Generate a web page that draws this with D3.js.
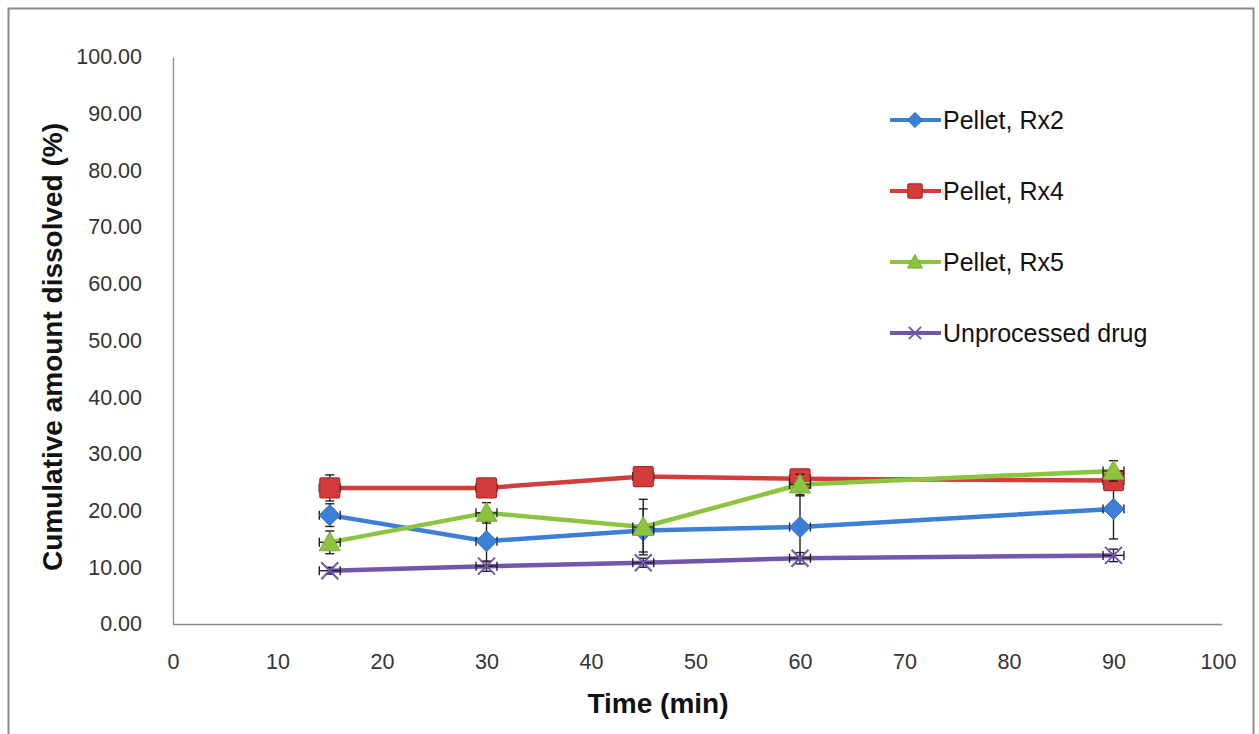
<!DOCTYPE html>
<html>
<head>
<meta charset="utf-8">
<script src="https://cdn.jsdelivr.net/npm/d3@7"></script>
<style>
  html, body { margin: 0; padding: 0; background: #ffffff; }
  svg { display: block; font-family: "Liberation Sans", Arial, sans-serif; }
</style>
</head>
<body>
<svg id="chart" width="1259" height="734"></svg>
<script>
// Sampling times (min)
const times = [15, 30, 45, 60, 90];

// Cumulative amount dissolved (%) per formulation
const rx2 = [19.2, 14.6, 16.5, 17.1, 20.3];
const rx4 = [24.0, 24.0, 26.0, 25.6, 25.3];
const rx5 = [14.4, 19.6, 17.1, 24.6, 27.0];
const unprocessed = [9.4, 10.2, 10.8, 11.6, 12.1];

// Standard deviations (y) for each point
const rx2Sd = [2.0, 3.6, 3.8, 5.5, 5.3];
const rx4Sd = [2.3, 0.4, 0.4, 0.5, 0.6];
const rx5Sd = [2.0, 1.8, 4.9, 1.8, 1.8];
const unprocessedSd = [0.6, 0.9, 0.8, 1.0, 1.1];

// Horizontal error (min) shown on each point
const rx2XErr = [1, 1, 1, 1, 1];
const rx4XErr = [1, 1, 1, 1, 1];
const rx5XErr = [1, 1, 1, 1, 1];
const unprocessedXErr = [1, 1, 1, 1, 1];

const seriesNames = ["Pellet, Rx2", "Pellet, Rx4", "Pellet, Rx5", "Unprocessed drug"];
const xTicks = [0, 10, 20, 30, 40, 50, 60, 70, 80, 90, 100];
const yTicks = [0, 10, 20, 30, 40, 50, 60, 70, 80, 90, 100];

const series = [
  { name: seriesNames[0], values: rx2, sd: rx2Sd, xe: rx2XErr, color: "#3c7fd6", stroke: "#2f6dbf", marker: "diamond" },
  { name: seriesNames[1], values: rx4, sd: rx4Sd, xe: rx4XErr, color: "#d43b3b", stroke: "#b02a2a", marker: "square" },
  { name: seriesNames[2], values: rx5, sd: rx5Sd, xe: rx5XErr, color: "#8dc43f", stroke: "#7aae33", marker: "triangle" },
  { name: seriesNames[3], values: unprocessed, sd: unprocessedSd, xe: unprocessedXErr, color: "#7455ad", stroke: "#6a4fa3", marker: "cross" }
];

const svg = d3.select("#chart");

// Outer frame
svg.append("rect")
  .attr("x", 8.5).attr("y", 8.5)
  .attr("width", 1245).attr("height", 740)
  .attr("fill", "#ffffff")
  .attr("stroke", "#8a8a8a")
  .attr("stroke-width", 2);

const plot = { left: 173, right: 1218, top: 57, bottom: 624 };

const x = d3.scaleLinear().domain([0, 100]).range([plot.left, plot.right]);
const y = d3.scaleLinear().domain([0, 100]).range([plot.bottom, plot.top]);

// Y axis
const yAxis = svg.append("g")
  .attr("transform", `translate(${plot.left},0)`)
  .call(d3.axisLeft(y).tickValues(yTicks).tickSize(0).tickPadding(31).tickFormat(d3.format(".2f")));
yAxis.select(".domain").attr("stroke", "#8a8a8a").attr("stroke-width", 1.3);
yAxis.selectAll("text").attr("font-size", 21.5).attr("fill", "#333333")
  .attr("font-family", "'Liberation Sans', Arial, sans-serif");

// X axis
const xAxis = svg.append("g")
  .attr("transform", `translate(0,${plot.bottom})`)
  .call(d3.axisBottom(x).tickValues(xTicks).tickSize(0).tickPadding(30).tickFormat(d3.format("d")));
xAxis.select(".domain").attr("stroke", "#8a8a8a").attr("stroke-width", 1.3)
  .attr("d", `M${plot.left},0.5H1222`);
xAxis.selectAll("text").attr("font-size", 21.5).attr("fill", "#333333")
  .attr("font-family", "'Liberation Sans', Arial, sans-serif");

// Axis titles
svg.append("text")
  .attr("x", 658).attr("y", 713)
  .attr("text-anchor", "middle")
  .attr("font-size", 28).attr("font-weight", "bold").attr("fill", "#111")
  .text("Time (min)");

svg.append("text")
  .attr("transform", "translate(62,347) rotate(-90)")
  .attr("text-anchor", "middle")
  .attr("font-size", 28).attr("font-weight", "bold").attr("fill", "#111")
  .text("Cumulative amount dissolved (%)");

const line = d3.line().x(d => x(d[0])).y(d => y(d[1]));

function drawMarker(g, type, cx, cy, s, k) {
  if (type === "diamond") {
    const r = 10.5 * k;
    g.append("path")
      .attr("d", `M${cx},${cy - r}L${cx + r},${cy}L${cx},${cy + r}L${cx - r},${cy}Z`)
      .attr("fill", s.color).attr("stroke", s.stroke).attr("stroke-width", 1);
  } else if (type === "square") {
    const r = 10 * k;
    g.append("rect")
      .attr("x", cx - r).attr("y", cy - r).attr("width", 2 * r).attr("height", 2 * r)
      .attr("rx", 1.5)
      .attr("fill", s.color).attr("stroke", s.stroke).attr("stroke-width", 1.2);
  } else if (type === "triangle") {
    const r = 10.5 * k;
    g.append("path")
      .attr("d", `M${cx},${cy - r}L${cx + r},${cy + r * 0.8}L${cx - r},${cy + r * 0.8}Z`)
      .attr("fill", s.color).attr("stroke", s.stroke).attr("stroke-width", 1);
  } else if (type === "cross") {
    const r = 8.5 * k;
    g.append("path")
      .attr("d", `M${cx - r},${cy - r}L${cx + r},${cy + r}M${cx - r},${cy + r}L${cx + r},${cy - r}`)
      .attr("stroke", s.color).attr("stroke-width", 2).attr("fill", "none");
  }
}

// Series: line, error bars, markers
series.forEach(s => {
  const g = svg.append("g");
  const pts = times.map((t, i) => [t, s.values[i]]);
  g.append("path")
    .attr("d", line(pts))
    .attr("fill", "none")
    .attr("stroke", s.color)
    .attr("stroke-width", 4.5)
    .attr("stroke-linejoin", "round");

  const eb = g.append("g").attr("stroke", "#222").attr("stroke-width", 1.4).attr("fill", "none");
  times.forEach((t, i) => {
    const cx = x(t), cy = y(s.values[i]);
    const y0 = y(s.values[i] - s.sd[i]), y1 = y(s.values[i] + s.sd[i]);
    eb.append("line").attr("x1", cx).attr("x2", cx).attr("y1", y0).attr("y2", y1);
    eb.append("line").attr("x1", cx - 4.5).attr("x2", cx + 4.5).attr("y1", y0).attr("y2", y0);
    eb.append("line").attr("x1", cx - 4.5).attr("x2", cx + 4.5).attr("y1", y1).attr("y2", y1);
    const x0 = x(t - s.xe[i]), x1 = x(t + s.xe[i]);
    eb.append("line").attr("x1", x0).attr("x2", x1).attr("y1", cy).attr("y2", cy);
    eb.append("line").attr("x1", x0).attr("x2", x0).attr("y1", cy - 4.5).attr("y2", cy + 4.5);
    eb.append("line").attr("x1", x1).attr("x2", x1).attr("y1", cy - 4.5).attr("y2", cy + 4.5);
  });

  times.forEach((t, i) => drawMarker(g, s.marker, x(t), y(s.values[i]), s, 1));
});

// Legend
const legendY = [120, 191, 262, 333];
series.forEach((s, i) => {
  const g = svg.append("g").attr("transform", `translate(890,${legendY[i]})`);
  g.append("line").attr("x1", 0).attr("x2", 51).attr("y1", 0).attr("y2", 0)
    .attr("stroke", s.color).attr("stroke-width", 4);
  drawMarker(g, s.marker, 25, 0, s, 0.72);
  g.append("text")
    .attr("x", 53).attr("y", 9)
    .attr("font-size", 25).attr("fill", "#111")
    .text(s.name);
});
</script>
</body>
</html>
